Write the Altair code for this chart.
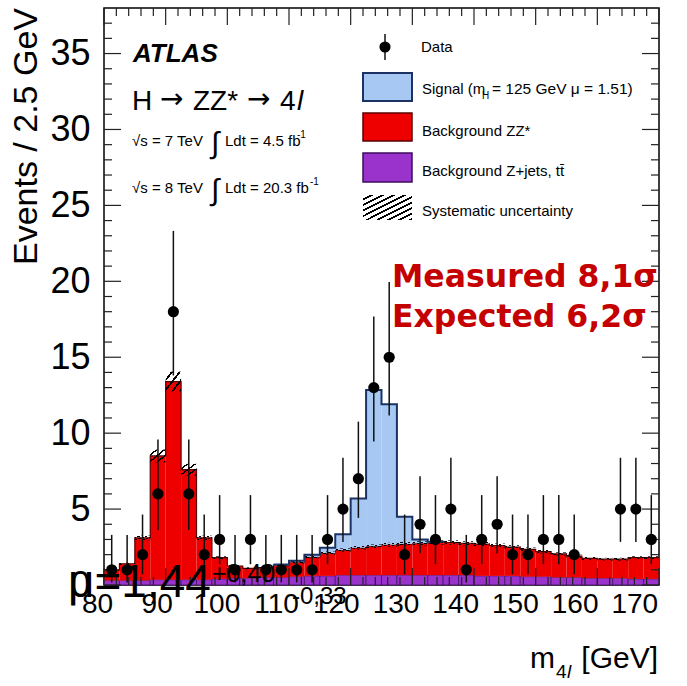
import altair as alt
import pandas as pd

# ---------------- data ----------------
bin_lo = [80.0, 82.5, 85.0, 87.5, 90.0, 92.5, 95.0, 97.5, 100.0, 102.5, 105.0, 107.5,
          110.0, 112.5, 115.0, 117.5, 120.0, 122.5, 125.0, 127.5, 130.0, 132.5, 135.0, 137.5,
          140.0, 142.5, 145.0, 147.5, 150.0, 152.5, 155.0, 157.5, 160.0, 162.5, 165.0, 167.5]
bkg_zjets = [0.3, 0.3, 0.3, 0.35, 0.35, 0.35, 0.35, 0.4, 0.45, 0.45, 0.5, 0.5,
             0.55, 0.6, 0.6, 0.65, 0.65, 0.65, 0.65, 0.65, 0.65, 0.65, 0.65, 0.65,
             0.6, 0.6, 0.6, 0.55, 0.55, 0.5, 0.5, 0.45, 0.45, 0.45, 0.4, 0.4]
bkg_zz = [0.7, 1.1, 2.8, 8.15, 13.05, 7.25, 2.75, 1.4, 0.8, 0.65, 0.65, 0.8,
          0.95, 1.25, 1.5, 1.65, 1.8, 1.9, 2.0, 2.05, 2.1, 2.15, 2.15, 2.1,
          2.1, 2.0, 1.9, 1.8, 1.65, 1.55, 1.4, 1.3, 1.25, 1.25, 1.4, 1.4]
signal = [0, 0, 0, 0, 0, 0, 0, 0, 0, 0, 0, 0.05,
          0.1, 0.15, 0.35, 1.05, 3.25, 10.3, 9.25, 1.8, 0.25, 0.05, 0, 0,
          0, 0, 0, 0, 0, 0, 0, 0, 0, 0, 0, 0]
syst_unc = [0.05, 0.07, 0.15, 0.42, 0.65, 0.38, 0.15, 0.09, 0.06, 0.06, 0.06, 0.07,
            0.08, 0.09, 0.1, 0.11, 0.12, 0.12, 0.13, 0.13, 0.13, 0.14, 0.14, 0.13,
            0.13, 0.13, 0.12, 0.12, 0.11, 0.1, 0.1, 0.09, 0.09, 0.09, 0.09, 0.09]
data_counts = [1, 1, 2, 6, 18, 6, 2, 3, 1, 3, 1, 1,
               1, 1, 3, 5, 7, 13, 15, 2, 4, 3, 5, 1,
               3, 4, 2, 2, 3, 3, 2, 0, 0, 5, 5, 3]
data_err_lo = [0.17, 0.17, 0.71, 3.62, 13.8, 3.62, 0.71, 1.37, 0.17, 1.37, 0.17, 0.17,
               0.17, 0.17, 1.37, 2.84, 4.42, 9.45, 11.17, 0.71, 2.09, 1.37, 2.84, 0.17,
               1.37, 2.09, 0.71, 0.71, 1.37, 1.37, 0.71, 0, 0, 2.84, 2.84, 1.37]
data_err_hi = [3.3, 3.3, 4.64, 9.58, 23.32, 9.58, 4.64, 5.92, 3.3, 5.92, 3.3, 3.3,
               3.3, 3.3, 5.92, 8.38, 10.76, 17.69, 19.96, 4.64, 7.16, 5.92, 8.38, 3.3,
               5.92, 7.16, 4.64, 4.64, 5.92, 5.92, 4.64, 0, 0, 8.38, 8.38, 5.92]
bin_width = 2.5

x_tick_labels = [80, 90, 100, 110, 120, 130, 140, 150, 160, 170]
y_tick_labels = [0, 5, 10, 15, 20, 25, 30, 35]
x_minor = [82, 84, 86, 88, 92, 94, 96, 98, 102, 104, 106, 108, 112, 114, 116, 118,
           122, 124, 126, 128, 132, 134, 136, 138, 142, 144, 146, 148, 152, 154, 156, 158,
           162, 164, 166, 168]
y_minor = [1, 2, 3, 4, 6, 7, 8, 9, 11, 12, 13, 14, 16, 17, 18, 19, 21, 22, 23, 24,
           26, 27, 28, 29, 31, 32, 33, 34, 36, 37]

# ---------------- styling ----------------
W, H = 555, 577
FONT = "Liberation Sans"
BLUE = "#a6c8f2"
NAVY = "#1c3264"
RED = "#ee0000"
DRED = "#5a0000"
PURPLE = "#9933cc"
DPURPLE = "#3c0c5c"

df = pd.DataFrame({"lo": bin_lo, "zj": bkg_zjets, "zz": bkg_zz, "sig": signal,
                   "syst": syst_unc, "n": data_counts, "elo": data_err_lo, "ehi": data_err_hi})
df["hi"] = df["lo"] + bin_width
df["mid"] = df["lo"] + bin_width / 2
df["zero"] = 0.0
df["bg"] = df["zj"] + df["zz"]
df["tot"] = df["bg"] + df["sig"]
df["slo"] = df["bg"] - df["syst"]
df["shi"] = df["bg"] + df["syst"]

# step outlines
bg_step = pd.DataFrame({"x": list(df["lo"]) + [float(df["hi"].iloc[-1])],
                        "y": list(df["bg"]) + [float(df["bg"].iloc[-1])]})
sig_bins = df[df["sig"] > 0]
step = pd.DataFrame({"x": list(sig_bins["lo"]) + [float(sig_bins["hi"].iloc[-1])],
                     "y": list(sig_bins["tot"]) + [float(sig_bins["bg"].iloc[-1])]})
step_start = pd.DataFrame({"x": [float(sig_bins["lo"].iloc[0])] * 2,
                           "y": [float(sig_bins["bg"].iloc[0]), float(sig_bins["tot"].iloc[0])]})

pts = df[df["n"] > 0]

xs = alt.Scale(domain=[80, 170], nice=False, zero=False)
ys = alt.Scale(domain=[0, 38], nice=False, zero=True)
xaxis = None
yaxis = alt.Axis(values=y_tick_labels, title=None, ticks=False, domain=False, grid=False,
                 labelFont=FONT, labelFontSize=36, labelColor="black", labelPadding=14,
                 labelOverlap=False, labelFlush=False)


def X(f):
    return alt.X(f, type="quantitative", scale=xs, axis=xaxis)


def Y(f):
    return alt.Y(f, type="quantitative", scale=ys, axis=yaxis)


def hatch(n, frac=0.3):
    stops = []
    for i in range(n):
        a = i / n
        m = (i + 1 - frac) / n
        e = (i + 1) / n
        stops += [alt.GradientStop(color="rgba(0,0,0,0)", offset=a),
                  alt.GradientStop(color="rgba(0,0,0,0)", offset=m),
                  alt.GradientStop(color="black", offset=m),
                  alt.GradientStop(color="black", offset=e)]
    return alt.LinearGradient(gradient="linear", stops=stops, x1=0, y1=0, x2=1, y2=1)


base = alt.Chart(df)
layers = []
layers.append(base.mark_rect(color=PURPLE, stroke=DPURPLE, strokeWidth=0.7).encode(
    x=X("lo"), x2="hi", y=Y("zero"), y2="zj"))
layers.append(base.mark_rect(color=RED, strokeWidth=0).encode(
    x=X("lo"), x2="hi", y=Y("zj"), y2="bg"))
layers.append(alt.Chart(bg_step).mark_line(color=DRED, strokeWidth=1.2, interpolate="step-after").encode(
    x=X("x"), y=Y("y")))
layers.append(alt.Chart(sig_bins).mark_rect(color=BLUE, strokeWidth=0).encode(
    x=X("lo"), x2="hi", y=Y("bg"), y2="tot"))
layers.append(base.mark_rect(color=hatch(4), strokeWidth=0).encode(
    x=X("lo"), x2="hi", y=Y("slo"), y2="shi"))
layers.append(alt.Chart(step).mark_line(color=NAVY, strokeWidth=2, interpolate="step-after").encode(
    x=X("x"), y=Y("y")))
layers.append(alt.Chart(step_start).mark_line(color=NAVY, strokeWidth=2).encode(
    x=X("x"), y=Y("y")))

# inward ticks
tick_col = "#222222"
ymaj = pd.DataFrame({"v": y_tick_labels})
ymin = pd.DataFrame({"v": y_minor})
xmaj = pd.DataFrame({"v": x_tick_labels})
xmin = pd.DataFrame({"v": x_minor})
for d, ln in ((ymaj, 17), (ymin, 8)):
    layers.append(alt.Chart(d).mark_rule(color=tick_col, strokeWidth=1.2).encode(
        y=Y("v"), x=alt.value(0), x2=alt.value(ln)))
    layers.append(alt.Chart(d).mark_rule(color=tick_col, strokeWidth=1.2).encode(
        y=Y("v"), x=alt.value(W - ln), x2=alt.value(W)))
for d, ln in ((xmaj, 17), (xmin, 8)):
    layers.append(alt.Chart(d).mark_rule(color=tick_col, strokeWidth=1.2).encode(
        x=X("v"), y=alt.value(0), y2=alt.value(ln)))
    layers.append(alt.Chart(d).mark_rule(color=tick_col, strokeWidth=1.2).encode(
        x=X("v"), y=alt.value(H - ln), y2=alt.value(H)))

# x tick labels (drawn slightly compressed toward the left, as in the reference)
xlab = pd.DataFrame({"v": x_tick_labels})
xlab["pos"] = 80 + ((97.5 + (xlab["v"] - 80) * 5.97) - 104) / (W / 90)
xlab["t"] = xlab["v"].astype(str)
layers.append(alt.Chart(xlab).mark_text(font=FONT, fontSize=28, baseline="top", align="center",
                                        color="black").encode(
    x=X("pos"), y=alt.value(H + 6), text="t:N"))

# data
layers.append(alt.Chart(pts).mark_rule(color="#111111", strokeWidth=1.5).encode(
    x=X("mid"), y=Y("elo"), y2="ehi"))
layers.append(alt.Chart(pts).mark_circle(size=125, color="black", opacity=1).encode(
    x=X("mid"), y=Y("n")))

one = pd.DataFrame({"a": [0]})


def txt(s, x, y, size, font=FONT, align="left", baseline="alphabetic", **kw):
    return alt.Chart(one).mark_text(text=s, fontSize=size, font=font, align=align,
                                    baseline=baseline, color=kw.pop("color", "black"), **kw).encode(
        x=alt.value(x), y=alt.value(y))


# top-left labels
layers += [
    txt("ATLAS", 29, 54, 26, fontWeight="bold", fontStyle="italic"),
    txt("H", 28, 102, 28),
    txt("\u2192", 56, 100, 28, font="DejaVu Sans"),
    txt("ZZ*", 89, 102, 28),
    txt("\u2192", 143, 100, 28, font="DejaVu Sans"),
    txt("4", 176, 102, 28),
    txt("l", 193, 102, 28, fontStyle="italic"),
    txt("\u221As = 7 TeV", 28, 138, 15),
    txt("\u222B", 107, 145, 30),
    txt("Ldt = 4.5 fb", 121, 138, 15),
    txt("-1", 193, 130, 10),
    txt("\u221As = 8 TeV", 28, 185, 15),
    txt("\u222B", 107, 192, 30),
    txt("Ldt = 20.3 fb", 121, 185, 15),
    txt("-1", 206, 177, 10),
]

# legend
layers.append(alt.Chart(one).mark_rule(color="#111111", strokeWidth=1.5).encode(
    x=alt.value(281), y=alt.value(26), y2=alt.value(52)))
layers.append(alt.Chart(one).mark_circle(size=125, color="black", opacity=1).encode(
    x=alt.value(281), y=alt.value(39)))
layers.append(alt.Chart(one).mark_rect(color=BLUE, stroke=NAVY, strokeWidth=2).encode(
    x=alt.value(259), x2=alt.value(308), y=alt.value(65), y2=alt.value(93)))
layers.append(alt.Chart(one).mark_rect(color=RED, stroke=DRED, strokeWidth=1.5).encode(
    x=alt.value(259), x2=alt.value(308), y=alt.value(105), y2=alt.value(133)))
layers.append(alt.Chart(one).mark_rect(color=PURPLE, stroke=DPURPLE, strokeWidth=1.5).encode(
    x=alt.value(259), x2=alt.value(308), y=alt.value(145), y2=alt.value(174)))
layers.append(alt.Chart(one).mark_rect(color=hatch(9, 0.35), strokeWidth=0).encode(
    x=alt.value(259), x2=alt.value(308), y=alt.value(187), y2=alt.value(212)))
layers += [
    txt("Data", 317, 39, 15, baseline="middle"),
    txt("Signal (m", 318, 86, 15),
    txt("H", 378, 91, 10),
    txt("= 125 GeV \u03BC = 1.51)", 388, 86, 15.5),
    txt("Background ZZ*", 318, 128, 15),
    txt("Background Z+jets, tt\u0304", 318, 168, 15),
    txt("Systematic uncertainty", 318, 208, 15),
]

# significance annotation
layers += [
    txt("Measured 8,1\u03C3", 288, 279, 31.5, font="DejaVu Sans", fontWeight="bold", color="#c40000"),
    txt("Expected 6,2\u03C3", 288, 319, 31.5, font="DejaVu Sans", fontWeight="bold", color="#c40000"),
]

# mu overlay
layers += [
    txt("\u03BC=1,44", -36, 589, 46),
    txt("+0,40", 108, 574, 25),
    txt("-0,33", 188, 596, 24),
]

# axis titles
layers += [
    txt("Events / 2.5 GeV", -67, 0, 34, align="right", angle=270),
    txt("m", 426, 660, 30),
    txt("4", 452, 670, 19),
    txt("l", 463, 670, 19, fontStyle="italic"),
    txt("[GeV]", 554, 660, 30, align="right"),
]

chart = alt.layer(*layers).properties(
    width=W, height=H,
    autosize=alt.AutoSizeParams(type="none"),
    padding={"left": 104, "top": 8, "right": 28, "bottom": 101},
    background="white",
).configure_view(stroke="black", strokeWidth=1.5)

chart.save("out.html", embed_options={"renderer": "svg", "actions": False})
